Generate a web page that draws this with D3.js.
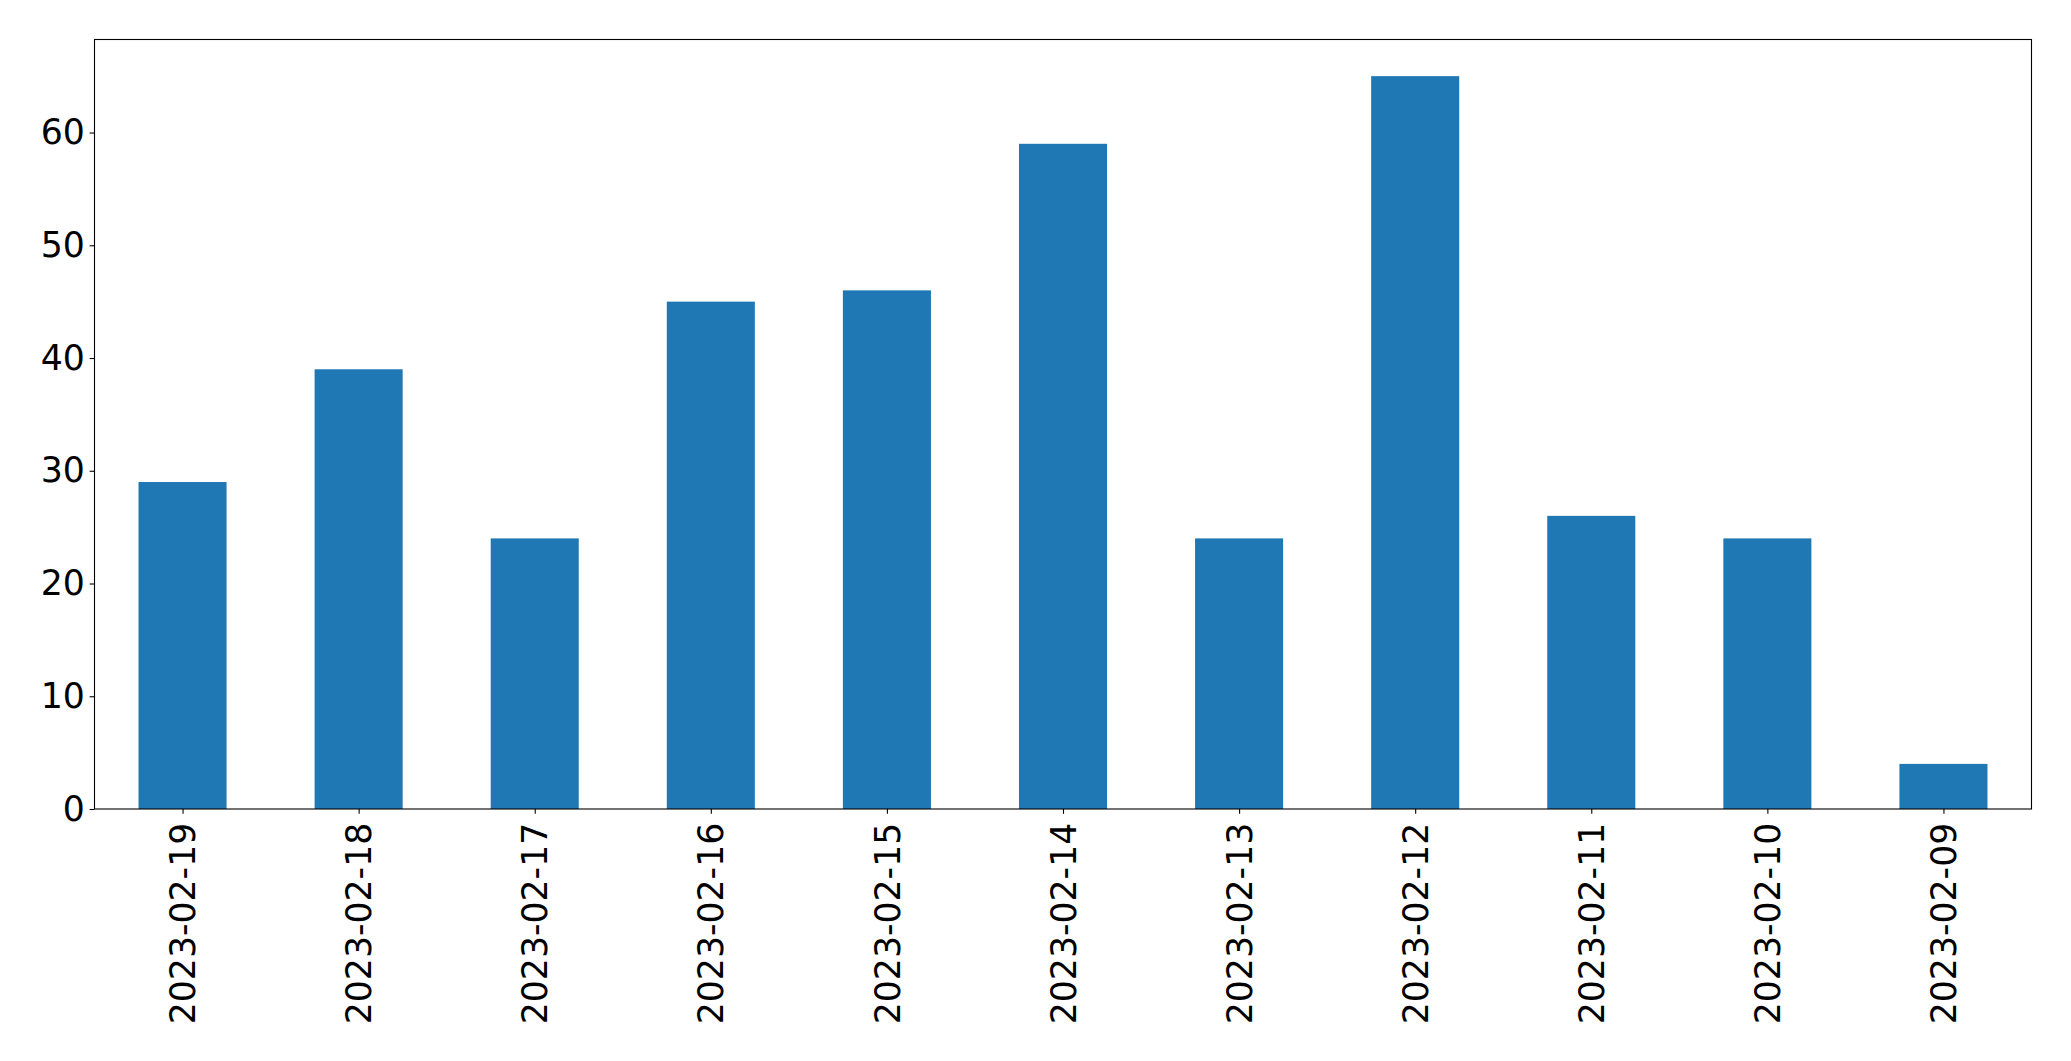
<!DOCTYPE html>
<html>
<head>
<meta charset="utf-8">
<script src="https://cdn.jsdelivr.net/npm/d3@7"></script>
<style>
  html, body { margin: 0; padding: 0; background: #fff; }
  svg { display: block; }
  text { font-family: "DejaVu Sans", sans-serif; fill: #000; }
</style>
</head>
<body>
<svg id="chart" width="2071" height="1061"></svg>
<script>
const categories = ["2023-02-19","2023-02-18","2023-02-17","2023-02-16","2023-02-15","2023-02-14","2023-02-13","2023-02-12","2023-02-11","2023-02-10","2023-02-09"];
const values = [29, 39, 24, 45, 46, 59, 24, 65, 26, 24, 4];
const yTicks = [0, 10, 20, 30, 40, 50, 60];

const W = 2071, H = 1061;
const margin = {left: 94.5, right: 2071 - 2031.5, top: 39.5, bottom: 1061 - 809};
const svg = d3.select("#chart");
const fontSize = 34.7;
const tickLen = 4.86, tickPad = 4.86;

const x = d3.scaleLinear().domain([-0.5, categories.length - 0.5]).range([margin.left, W - margin.right]);
const yMax = d3.max(values) * 1.05;
const y = d3.scaleLinear().domain([0, yMax]).range([H - margin.bottom, margin.top]);

const barW = 0.5;
svg.append("g").selectAll("rect").data(values).enter().append("rect")
  .attr("x", (d, i) => x(i - barW / 2))
  .attr("width", (d, i) => x(i + barW / 2) - x(i - barW / 2))
  .attr("y", d => y(d))
  .attr("height", d => y(0) - y(d))
  .attr("fill", "#1f77b4");

// Y axis
const yAxis = d3.axisLeft(y).tickValues(yTicks).tickSize(tickLen).tickPadding(tickPad).tickFormat(d3.format("d"));
const gy = svg.append("g").attr("transform", `translate(${margin.left},0)`).call(yAxis);
gy.select(".domain").remove();
gy.selectAll("line").attr("stroke", "#000").attr("stroke-width", 1.1);
gy.selectAll("text").style("font-size", fontSize + "px").style("font-family", "DejaVu Sans, sans-serif").attr("fill", "#000");

// X axis
const xAxis = d3.axisBottom(x).tickValues(d3.range(categories.length)).tickSize(tickLen).tickPadding(tickPad).tickFormat(i => categories[i]);
const gx = svg.append("g").attr("transform", `translate(0,${H - margin.bottom})`).call(xAxis);
gx.select(".domain").remove();
gx.selectAll("line").attr("stroke", "#000").attr("stroke-width", 1.1);
gx.selectAll("text")
  .style("font-size", fontSize + "px").style("font-family", "DejaVu Sans, sans-serif").attr("fill", "#000")
  .attr("y", 0).attr("dy", "0.35em")
  .attr("x", 0)
  .attr("text-anchor", "end")
  .attr("transform", `translate(0,${tickLen + tickPad + 4}) rotate(-90)`);

// Frame
svg.append("rect")
  .attr("x", margin.left).attr("y", margin.top)
  .attr("width", W - margin.right - margin.left)
  .attr("height", H - margin.bottom - margin.top)
  .attr("fill", "none").attr("stroke", "#000").attr("stroke-width", 1.1);
</script>
</body>
</html>
